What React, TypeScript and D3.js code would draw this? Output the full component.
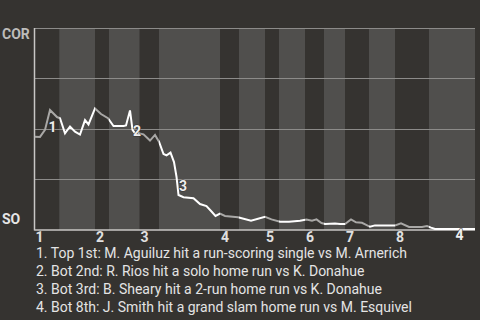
import React from "react";
import * as d3 from "d3";

// Game progress (plate-appearance scale) and COR win probability at each play
const progress = [0, 1.1, 2.1, 3.1, 4.5, 5.1, 6.1, 7.1, 8.1, 9.1, 10.1, 10.8, 12.1, 13.3, 14.7, 15.8, 17.8, 18.3, 19.1, 19.6, 20.1, 20.8, 21.8, 23.1, 24.1, 24.9, 25.8, 26.4, 27.2, 27.9, 28.4, 28.8, 29.8, 31.8, 33.1, 34.4, 35.4, 36.2, 37.1, 38.1, 40.7, 43.3, 46.1, 47.4, 49.1, 50.9, 53.1, 54.4, 55.5, 56.4, 57.4, 58.1, 60.1, 61.1, 62.1, 63.3, 64.3, 65.5, 67.1, 68.1, 72.1, 73.3, 74.9, 77.5, 78.5, 79.3, 80.1, 88.1];
const winProb = [0.459, 0.458, 0.493, 0.592, 0.557, 0.551, 0.476, 0.51, 0.484, 0.47, 0.542, 0.52, 0.6, 0.572, 0.551, 0.512, 0.512, 0.515, 0.59, 0.493, 0.476, 0.476, 0.471, 0.44, 0.468, 0.434, 0.373, 0.366, 0.38, 0.333, 0.26, 0.169, 0.158, 0.153, 0.124, 0.114, 0.087, 0.065, 0.077, 0.065, 0.058, 0.041, 0.061, 0.048, 0.036, 0.036, 0.041, 0.047, 0.041, 0.048, 0.03, 0.025, 0.027, 0.025, 0.025, 0.048, 0.033, 0.031, 0.011, 0.018, 0.018, 0.028, 0.01, 0.01, 0.015, 0.007, 0, 0];

// Half-inning start points (top 1st, bot 1st, top 2nd, ...)
const halfStarts = [0, 4.96, 12.1, 14.9, 21.0, 24.9, 37.1, 40.9, 46.1, 48.9, 54.1, 57.9, 62.1, 66.9, 72.1, 78.9];
const gameEnd = 88.1;
const inningLabels = ["1", "2", "3", "4", "5", "6", "7", "8"];

// Key plays
const eventIds = ["1", "2", "3", "4"];
const eventProgress = [3.6, 20.5, 29.7, 85.0];
const eventProb = [0.51, 0.49, 0.216, -0.032];
const eventNotes = [
  "1. Top 1st: M. Aguiluz hit a run-scoring single vs M. Arnerich",
  "2. Bot 2nd: R. Rios hit a solo home run vs K. Donahue",
  "3. Bot 3rd: B. Sheary hit a 2-run home run vs K. Donahue",
  "4. Bot 8th: J. Smith hit a grand slam home run vs M. Esquivel",
];

const teamTop = "COR";
const teamBottom = "SO";
const gridValues = [0.25, 0.5, 0.75, 1];

const W = 480;
const H = 320;
const BG = "#353330";
const BAND = "#504f4d";
const FONT = "Roboto, 'Noto Sans', sans-serif";

export default function App() {
  const x = d3.scaleLinear().domain([0, gameEnd]).range([34.5, 475]);
  const y = d3.scaleLinear().domain([0, 1]).range([229, 28]);

  const bands = halfStarts.map((s, i) => ({
    x0: x(s),
    x1: x(i + 1 < halfStarts.length ? halfStarts[i + 1] : gameEnd),
    top: i % 2 === 0,
  }));

  const pts: [number, number][] = progress.map((p, i) => [p, winProb[i]]);
  const line = d3
    .line<[number, number]>()
    .x((d) => x(d[0]))
    .y((d) => y(d[1]));
  const path = line(pts) || "";

  return (
    <div style={{ position: "fixed", left: 0, top: 0, width: W, height: H, background: BG }}>
      <svg width={W} height={H} style={{ display: "block" }} fontFamily={FONT}>
        <rect x={0} y={0} width={W} height={H} fill={BG} />
        <defs>
          <clipPath id="topHalves">
            {bands.filter((b) => b.top).map((b, i) => (
              <rect key={i} x={b.x0} y={0} width={b.x1 - b.x0} height={H} />
            ))}
          </clipPath>
          <clipPath id="bottomHalves">
            {bands.filter((b) => !b.top).map((b, i) => (
              <rect key={i} x={b.x0} y={0} width={b.x1 - b.x0} height={H} />
            ))}
          </clipPath>
        </defs>

        {bands.map((b, i) =>
          b.top ? null : (
            <rect key={i} x={b.x0} y={y(1)} width={b.x1 - b.x0} height={y(0) - y(1) + 1} fill={BAND} />
          )
        )}

        {gridValues.map((v) => (
          <line key={v} x1={x(0)} x2={x(gameEnd)} y1={Math.round(y(v)) + 0.5} y2={Math.round(y(v)) + 0.5} stroke="#8c8b89" strokeWidth={1} />
        ))}
        <line x1={x(0)} x2={x(gameEnd)} y1={230} y2={230} stroke="#c8c7c5" strokeWidth={1.5} />
        <line x1={x(0)} x2={x(0)} y1={y(1)} y2={230.5} stroke="#c8c7c5" strokeWidth={1.5} />

        <path d={path} fill="none" stroke="#a9a8a6" strokeWidth={2} strokeLinejoin="miter" clipPath="url(#topHalves)" />
        <path d={path} fill="none" stroke="#ffffff" strokeWidth={2} strokeLinejoin="miter" clipPath="url(#bottomHalves)" />

        {eventIds.map((id, i) => (
          <text
            key={id}
            x={x(eventProgress[i])}
            y={y(eventProb[i])}
            dy="0.36em"
            textAnchor="middle"
            fontSize={14}
            fontWeight="bold"
            fill="#eeeeee"
            stroke={BG}
            strokeWidth={1}
            paintOrder="stroke"
          >
            {id}
          </text>
        ))}

        <text x={2} y={y(1) + 11} fontSize={14} fontWeight="bold" fill="#bdbcba">{teamTop}</text>
        <text x={2} y={y(0) - 5} fontSize={14} fontWeight="bold" fill="#e6e6e6">{teamBottom}</text>

        {inningLabels.map((lab, i) => (
          <text key={lab + i} x={x(halfStarts[i * 2]) + 1} y={242} fontSize={14} fontWeight="bold" fill="#e0e0e0">
            {lab}
          </text>
        ))}

        {eventNotes.map((t, i) => (
          <text key={i} x={36} y={258 + i * 18} fontSize={14} fill="#e4e4e4">
            {t}
          </text>
        ))}
      </svg>
    </div>
  );
}
